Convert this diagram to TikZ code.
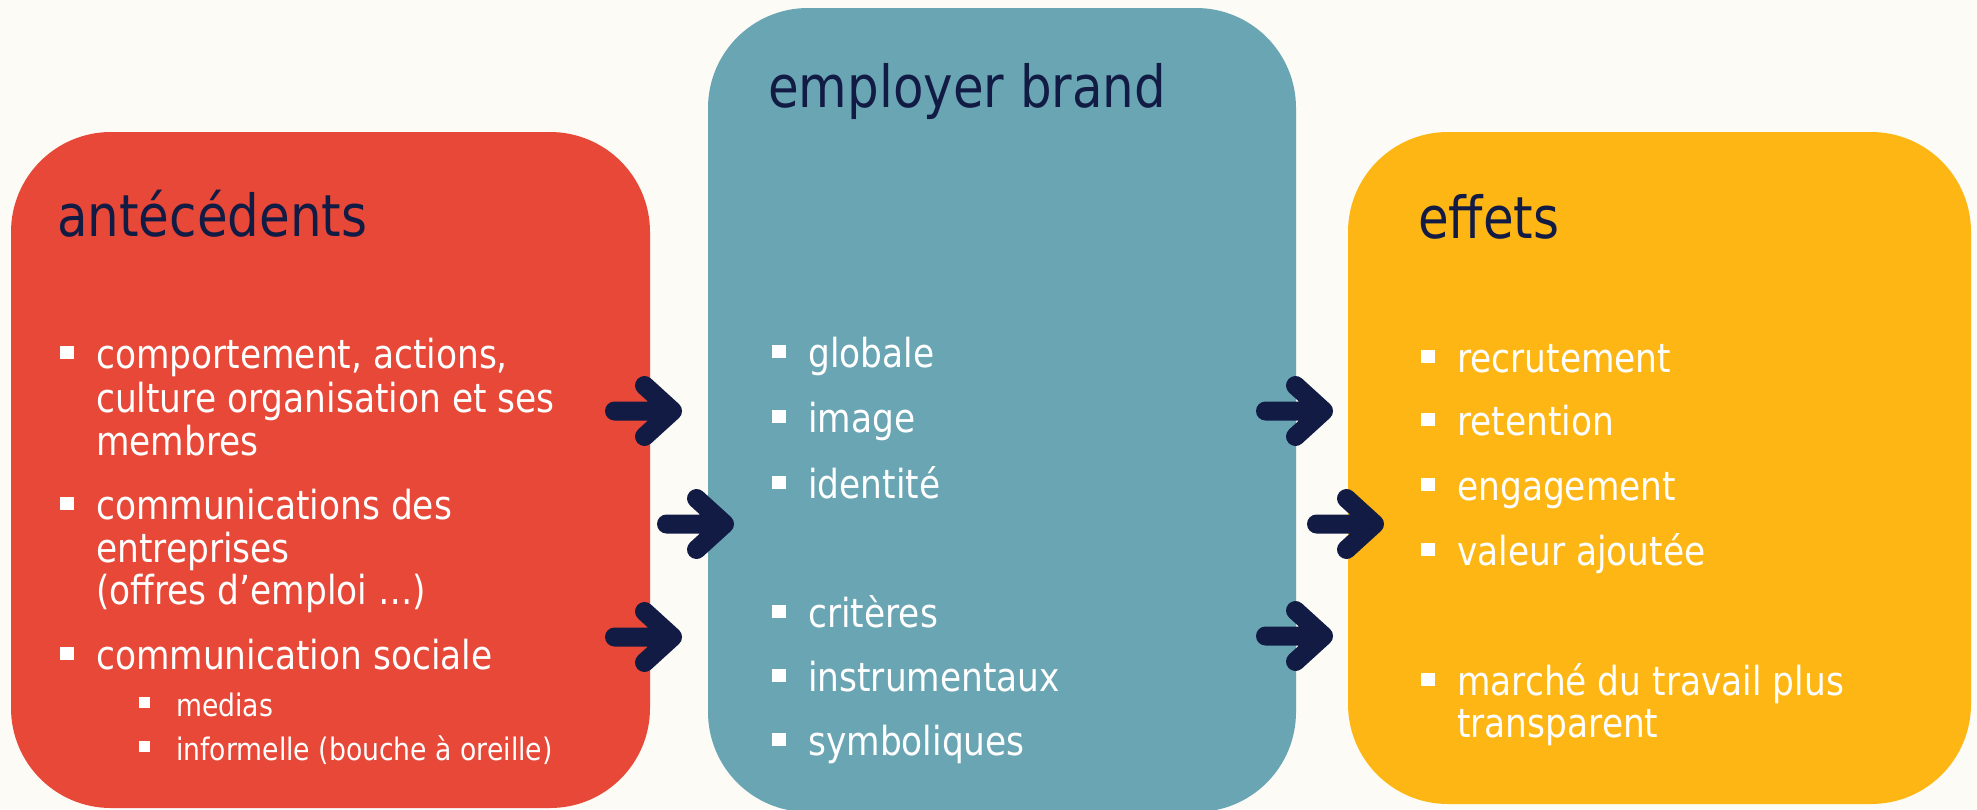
\documentclass[tikz,border=0pt]{standalone}
\usepackage{fontspec}
\setmainfont[FakeStretch=0.86]{DejaVu Sans}
\definecolor{bgc}{HTML}{FCFBF5}
\definecolor{redbox}{HTML}{E74837}
\definecolor{tealbox}{HTML}{6AA5B4}
\definecolor{yellowbox}{HTML}{FEB614}
\definecolor{navy}{HTML}{111B44}
\newcommand\bsq[2]{\fill[white] (#1-36,#2-22.5) rectangle (#1-22,#2-9.5);}
\newcommand\ssq[2]{\fill[white] (#1-37,#2-19) rectangle (#1-26.5,#2-8.5);}
\newcommand\fatarr[3]{\coordinate (#1) at (#2,#3);
  \draw[fatarrow, shift={(#1)}] (9.5,0) -- (67.5,0) (39.5,-25.5) -- (67.5,0) -- (39.5,25.5);}
\begin{document}
\begin{tikzpicture}[x=1pt,y=-1pt,
  titletext/.style={anchor=base west, inner sep=0pt, text=navy, font=\fontsize{58}{60}\selectfont},
  bodytext/.style={anchor=base west, inner sep=0pt, text=white, font=\fontsize{40}{44}\selectfont},
  subtext/.style={anchor=base west, inner sep=0pt, text=white, font=\fontsize{31}{36}\selectfont},
  panel/.style={rounded corners=100pt},
  fatarrow/.style={draw=navy, line width=19pt, line cap=round, line join=round}]
\fill[bgc] (0,0) rectangle (1977,809);
\useasboundingbox (0,0) rectangle (1977,809);

% panels
\fill[redbox, panel] (11,132) rectangle (650,808);
\fill[tealbox, panel] (708,8) rectangle (1296,812);
\fill[yellowbox, panel] (1348,132) rectangle (1971,804);

% arrows
\fatarr{la1}{605}{411}
\fatarr{la2}{657}{524}
\fatarr{la3}{605}{637}
\fatarr{ra1}{1256}{411}
\fatarr{ra2}{1307}{524}
\fatarr{ra3}{1256}{636}

% titles
\node[titletext] (t1) at (57,236) {antécédents};
\node[titletext] (t2) at (768,107) {employer brand};
\node[titletext] (t3) at (1418,238) {effets};

% left panel
\bsq{96}{368}
\node[bodytext] (a1) at (96,368) {comportement, actions,};
\node[bodytext] (a2) at (96,412) {culture organisation et ses};
\node[bodytext] (a3) at (96,455) {membres};
\bsq{96}{519}
\node[bodytext] (a4) at (96,519) {communications des};
\node[bodytext] (a5) at (96,562) {entreprises};
\node[bodytext] (a6) at (96,604) {(offres d’emploi …)};
\bsq{96}{669}
\node[bodytext] (a7) at (96,669) {communication sociale};
\ssq{176}{716}
\node[subtext] (a8) at (176,716) {medias};
\ssq{176}{760}
\node[subtext] (a9) at (176,760) {informelle (bouche à oreille)};

% middle panel
\bsq{808}{367}
\node[bodytext] (b1) at (808,367) {globale};
\bsq{808}{432}
\node[bodytext] (b2) at (808,432) {image};
\bsq{808}{498}
\node[bodytext] (b3) at (808,498) {identité};
\bsq{808}{627}
\node[bodytext] (b4) at (808,627) {critères};
\bsq{808}{691}
\node[bodytext] (b5) at (808,691) {instrumentaux};
\bsq{808}{755}
\node[bodytext] (b6) at (808,755) {symboliques};

% right panel
\bsq{1457}{372}
\node[bodytext] (c1) at (1457,372) {recrutement};
\bsq{1457}{435}
\node[bodytext] (c2) at (1457,435) {retention};
\bsq{1457}{500}
\node[bodytext] (c3) at (1457,500) {engagement};
\bsq{1457}{565}
\node[bodytext] (c4) at (1457,565) {valeur ajoutée};
\bsq{1457}{695}
\node[bodytext] (c5) at (1457,695) {marché du travail plus};
\node[bodytext] (c6) at (1457,737) {transparent};
\end{tikzpicture}
\end{document}
